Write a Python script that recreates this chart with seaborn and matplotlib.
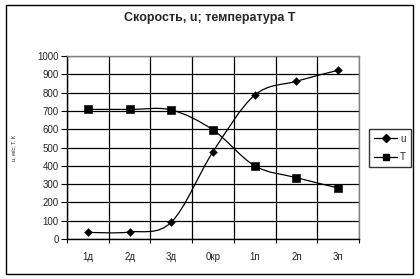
import numpy as np
import pandas as pd
import matplotlib
matplotlib.use("Agg")
import matplotlib.pyplot as plt
import seaborn as sns
from matplotlib.path import Path
from matplotlib.patches import PathPatch, Rectangle
from matplotlib.lines import Line2D

categories = ["1д", "2д", "3д", "0кр", "1п", "2п", "3п"]
u_values = [36, 38, 92, 477, 786, 862, 922]
T_values = [708, 708, 705, 596, 400, 335, 279]
y_ticks = [0, 100, 200, 300, 400, 500, 600, 700, 800, 900, 1000]

sns.set_theme(style="white")
plt.rcParams['font.family'] = ['Liberation Sans', 'DejaVu Sans']

fig = plt.figure(figsize=(4.2, 2.79), dpi=100)
ax = fig.add_axes([67/420, 1-239/279, (359-67)/420, (239-56)/279])

x = np.arange(len(categories))
df = pd.DataFrame({"x": np.concatenate([x, x]),
                   "v": u_values + T_values,
                   "s": ["u"]*len(x) + ["T"]*len(x)})


def smooth_path(xs, ys):
    pts = np.column_stack([xs, ys]).astype(float)
    n = len(pts)
    verts = [pts[0]]
    codes = [Path.MOVETO]
    for i in range(n-1):
        p0 = pts[i-1] if i > 0 else pts[i]
        p1 = pts[i]
        p2 = pts[i+1]
        p3 = pts[i+2] if i+2 < n else pts[i+1]
        c1 = p1 + (p2 - p0)/6
        c2 = p2 - (p3 - p1)/6
        verts += [c1, c2, p2]
        codes += [Path.CURVE4]*3
    return Path(verts, codes)

for vals in (u_values, T_values):
    ax.add_patch(PathPatch(smooth_path(x, vals), fill=False, color="black", lw=0.9, zorder=3))

sns.scatterplot(data=df[df.s == "u"], x="x", y="v", marker="D", s=16, color="black",
                edgecolor="black", ax=ax, zorder=4, legend=False)
sns.scatterplot(data=df[df.s == "T"], x="x", y="v", marker="s", s=30, color="black",
                edgecolor="black", ax=ax, zorder=4, legend=False)

ax.set_xlim(-0.5, len(categories)-0.5)
ax.set_ylim(0, 1000)
ax.set_yticks(y_ticks)
ax.set_yticklabels([str(t) for t in y_ticks], fontsize=7)
ax.set_xticks(x)
ax.set_xticklabels(categories, fontsize=7)
ax.set_xticks(np.arange(-0.5, len(categories)), minor=True)
ax.tick_params(axis="x", which="major", length=0, pad=9)
ax.tick_params(axis="x", which="minor", length=3, width=0.8, color="black", direction="out", bottom=True)
ax.tick_params(axis="y", which="major", length=4, width=0.8, color="black", direction="out", left=True, pad=2)
ax.set_xlabel("")
ax.set_ylabel("u, м/с; T, K", fontsize=4)
ax.yaxis.set_label_coords((16-67)/292, 0.5)

ax.grid(False)
ax.yaxis.grid(True, color="black", lw=0.9)
ax.xaxis.grid(True, which="minor", color="black", lw=0.9)
for s in ["top", "right"]:
    ax.spines[s].set_color("#808080")
    ax.spines[s].set_linewidth(1)
for s in ["left", "bottom"]:
    ax.spines[s].set_color("black")
    ax.spines[s].set_linewidth(1)
ax.set_axisbelow(True)

fig.text(210/420, 1-18/279, "Скорость, u; температура T", ha="center", va="center",
         fontsize=9, fontweight="bold")

handles = [Line2D([], [], color="black", lw=0.9, marker="D", markersize=4),
           Line2D([], [], color="black", lw=0.9, marker="s", markersize=5)]
leg = fig.legend(handles, ["u", "T"], loc="center",
                 bbox_to_anchor=(390/420, 1-148/279), fontsize=7, frameon=True,
                 fancybox=False, edgecolor="black", handlelength=2.4, handletextpad=0.3,
                 borderpad=0.5, labelspacing=0.9, borderaxespad=0)
leg.get_frame().set_linewidth(1)

fig.patches.append(Rectangle((5.5/420, 1-274/279), (413-5.5)/420, (274-5)/279,
                             transform=fig.transFigure, fill=False, edgecolor="black", lw=1))

fig.savefig("out.png", dpi=100)
